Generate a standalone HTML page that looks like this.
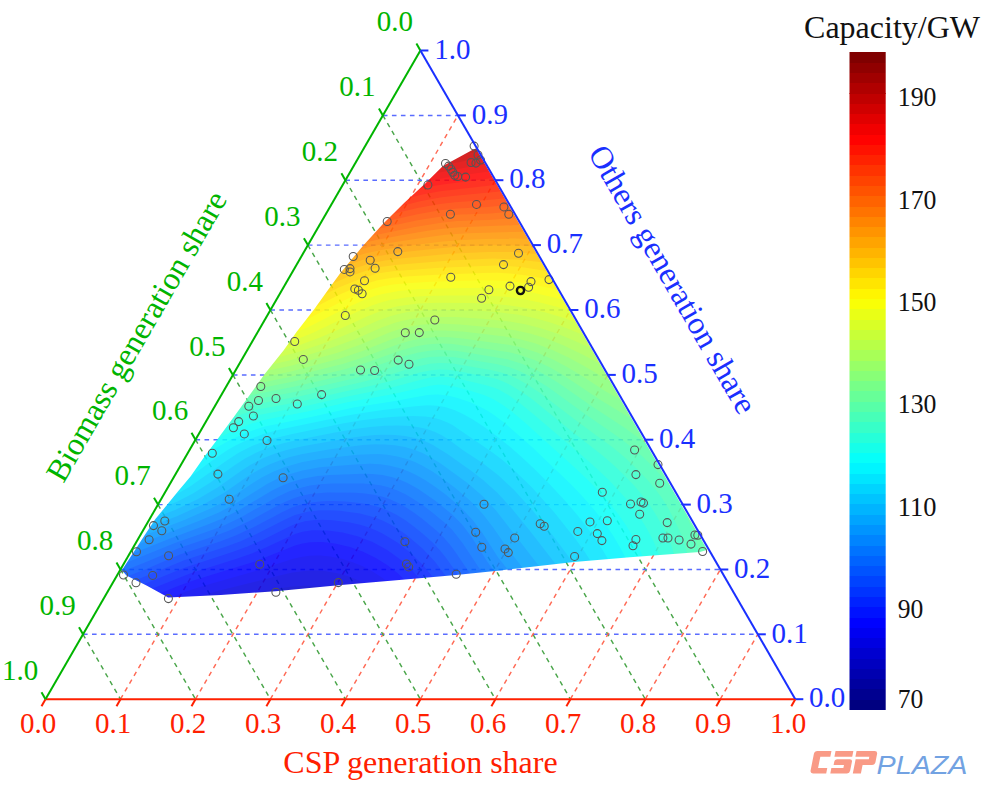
<!DOCTYPE html><html><head><meta charset="utf-8"><style>html,body{margin:0;padding:0;background:#fff;width:987px;height:794px;overflow:hidden}svg{display:block}</style></head><body><svg width="987" height="794" viewBox="0 0 987 794"><defs><clipPath id="hc"><path d="M473.2 149.4 L476.0 148.6 L707.2 549.8 L705.0 550.6 L699.8 552.1 L629.9 557.3 L573.9 562.0 L500.0 570.5 L456.1 575.0 L413.7 578.8 L338.3 585.3 L275.5 591.3 L220.8 595.0 L168.1 597.4 L164.7 595.6 L146.5 585.6 L126.4 575.6 L121.9 570.3 L145.1 534.5 L155.2 519.3 L166.5 505.5 L177.9 491.6 L190.5 476.5 L205.6 455.1 L216.9 440.0 L232.9 418.2 L264.7 374.1 L283.9 350.0 L296.5 331.9 L314.2 309.2 L330.5 286.5 L340.6 272.7 L353.2 257.6 L363.5 245.2 L382.9 224.1 L404.1 202.9 L425.2 183.5 L442.9 165.9 Z"/></clipPath></defs><g stroke-width="1.45" stroke-dasharray="4.6 4.4"><line x1="83.0" y1="634.3" x2="757.8" y2="634.3" stroke="#5a6cff"/><line x1="120.5" y1="699.2" x2="457.9" y2="115.4" stroke="#ff6a55"/><line x1="382.9" y1="115.4" x2="720.3" y2="699.2" stroke="#4aa64a"/><line x1="120.5" y1="569.5" x2="720.3" y2="569.5" stroke="#5a6cff"/><line x1="195.5" y1="699.2" x2="495.4" y2="180.2" stroke="#ff6a55"/><line x1="345.4" y1="180.2" x2="645.3" y2="699.2" stroke="#4aa64a"/><line x1="158.0" y1="504.6" x2="682.8" y2="504.6" stroke="#5a6cff"/><line x1="270.4" y1="699.2" x2="532.9" y2="245.1" stroke="#ff6a55"/><line x1="307.9" y1="245.1" x2="570.4" y2="699.2" stroke="#4aa64a"/><line x1="195.5" y1="439.7" x2="645.3" y2="439.7" stroke="#5a6cff"/><line x1="345.4" y1="699.2" x2="570.4" y2="310.0" stroke="#ff6a55"/><line x1="270.4" y1="310.0" x2="495.4" y2="699.2" stroke="#4aa64a"/><line x1="232.9" y1="374.9" x2="607.8" y2="374.9" stroke="#5a6cff"/><line x1="420.4" y1="699.2" x2="607.8" y2="374.9" stroke="#ff6a55"/><line x1="232.9" y1="374.9" x2="420.4" y2="699.2" stroke="#4aa64a"/><line x1="270.4" y1="310.0" x2="570.4" y2="310.0" stroke="#5a6cff"/><line x1="495.4" y1="699.2" x2="645.3" y2="439.7" stroke="#ff6a55"/><line x1="195.5" y1="439.7" x2="345.4" y2="699.2" stroke="#4aa64a"/><line x1="307.9" y1="245.1" x2="532.9" y2="245.1" stroke="#5a6cff"/><line x1="570.4" y1="699.2" x2="682.8" y2="504.6" stroke="#ff6a55"/><line x1="158.0" y1="504.6" x2="270.4" y2="699.2" stroke="#4aa64a"/><line x1="345.4" y1="180.2" x2="495.4" y2="180.2" stroke="#5a6cff"/><line x1="645.3" y1="699.2" x2="720.3" y2="569.5" stroke="#ff6a55"/><line x1="120.5" y1="569.5" x2="195.5" y2="699.2" stroke="#4aa64a"/><line x1="382.9" y1="115.4" x2="457.9" y2="115.4" stroke="#5a6cff"/><line x1="720.3" y1="699.2" x2="757.8" y2="634.3" stroke="#ff6a55"/><line x1="83.0" y1="634.3" x2="120.5" y2="699.2" stroke="#4aa64a"/></g><g clip-path="url(#hc)"><g fill-rule="evenodd" opacity="0.86"><path d="M471.7 145.7 440.5 162.7 422.4 180.6 401.3 200 380 221.3 360.5 242.6 337.4 270.2 311 306.8 293.3 329.5 280.7 347.6 261.5 371.7 229.7 415.8 202.4 452.7 187.3 474.1 152 516.9 116.9 570.6 123.9 578.8 144.6 589.1 167.2 601.4 221 599 275.8 595.3 338.7 589.3 456.5 579 500.4 574.5 574.3 566 700.5 556.1 713 551.9 477.9 143.9Z" fill="#000080"/><path d="M471.7 145.7 440.5 162.7 422.4 180.6 401.3 200 380 221.3 360.5 242.6 337.4 270.2 311 306.8 293.3 329.5 280.7 347.6 261.5 371.7 229.7 415.8 202.4 452.7 187.3 474.1 152 516.9 116.9 570.6 123.9 578.8 144.6 589.1 167.2 601.4 221 599 275.8 595.3 338.7 589.3 456.5 579 500.4 574.5 574.3 566 700.5 556.1 713 551.9 477.9 143.9Z" fill="#000090"/><path d="M471.7 145.7 440.5 162.7 422.4 180.6 401.3 200 380 221.3 360.5 242.6 337.4 270.2 311 306.8 293.3 329.5 280.7 347.6 261.5 371.7 229.7 415.8 202.4 452.7 187.3 474.1 152 516.9 116.9 570.6 123.9 578.8 144.6 589.1 167.2 601.4 221 599 275.8 595.3 338.7 589.3 456.5 579 500.4 574.5 574.3 566 700.5 556.1 713 551.9 477.9 143.9Z" fill="#0000a0"/><path d="M471.7 145.7 440.5 162.7 422.4 180.6 401.3 200 380 221.3 360.5 242.6 337.4 270.2 311 306.8 293.3 329.5 280.7 347.6 261.5 371.7 229.7 415.8 202.4 452.7 187.3 474.1 152 516.9 116.9 570.6 123.9 578.8 144.6 589.1 167.2 601.4 221 599 275.8 595.3 338.7 589.3 456.5 579 500.4 574.5 574.3 566 700.5 556.1 713 551.9 477.9 143.9Z" fill="#0000b0"/><path d="M471.7 145.7 440.5 162.7 422.4 180.6 401.3 200 380 221.3 360.5 242.6 337.4 270.2 311 306.8 293.3 329.5 280.7 347.6 261.5 371.7 229.7 415.8 202.4 452.7 187.3 474.1 152 516.9 116.9 570.6 123.9 578.8 144.6 589.1 167.2 601.4 221 599 275.8 595.3 338.7 589.3 456.5 579 500.4 574.5 574.3 566 700.5 556.1 713 551.9 477.9 143.9Z" fill="#0000c0"/><path d="M440.5 162.7 422.4 180.6 401.3 200 380 221.3 360.5 242.6 337.4 270.2 311 306.8 293.3 329.5 280.7 347.6 261.5 371.7 229.7 415.8 202.4 452.7 187.3 474.1 152 516.9 116.9 570.6 123.9 578.8 144.6 589.1 167.2 601.4 221 599 275.8 595.3 338.7 589.3 456.5 579 500.4 574.5 574.3 566 700.5 556.1 713 551.9 477.9 143.9 471.7 145.7Z" fill="#0000d0"/><path d="M227.5 598.3 272.5 589.3 292.5 586.5 305 585.7 315 585.9 327.5 587.2 337.5 589.4 456.5 579 500.4 574.5 574.3 566 700.5 556.1 713 551.9 477.9 143.9 471.7 145.7 440.5 162.7 422.4 180.6 401.3 200 380 221.3 360.5 242.6 337.4 270.2 311 306.8 293.3 329.5 280.7 347.6 261.5 371.7 229.7 415.8 202.4 452.7 187.3 474.1 152 516.9 116.9 570.6 123.9 578.8 144.6 589.1 167.2 601.4 221 599Z" fill="#0000e1"/><path d="M185.7 600.6 217.5 591 277.5 576 292.5 572.6 305 570.9 312.5 570.5 322.5 570.8 337.5 573.2 347.5 576.1 355 579 362.5 582.6 369.5 586.6 456.5 579 500.4 574.5 574.3 566 700.5 556.1 713 551.9 477.9 143.9 471.7 145.7 440.5 162.7 422.4 180.6 401.3 200 380 221.3 360.5 242.6 337.4 270.2 311 306.8 293.3 329.5 280.7 347.6 261.5 371.7 229.7 415.8 202.4 452.7 187.3 474.1 152 516.9 116.9 570.6 123.9 578.8 144.6 589.1 167.2 601.4Z" fill="#0000f1"/><path d="M164.2 599.9 187.5 591.1 205 585.4 255 571.3 292.5 559.1 302.5 556.7 310 555.7 320 555.5 330 556.5 342.5 559.1 352.5 562.2 362.5 566.3 372.5 571.6 382.5 578.1 390.9 584.8 456.5 579 500.4 574.5 574.3 566 700.5 556.1 713 551.9 477.9 143.9 471.7 145.7 440.5 162.7 422.4 180.6 401.3 200 380 221.3 360.5 242.6 337.4 270.2 311 306.8 293.3 329.5 280.7 347.6 261.5 371.7 229.7 415.8 202.4 452.7 187.3 474.1 152 516.9 116.9 570.6 123.9 578.8 144.6 589.1Z" fill="#0002ff"/><path d="M155.8 595 180 585.3 194.9 580 255 561.5 295 545.5 302.5 543.4 310 542.2 322.5 542 335 543.5 350 547 362.5 551.4 375 557.4 387.5 565.3 397.5 573.1 407.9 583.3 456.5 579 500.4 574.5 574.3 566 700.5 556.1 713 551.9 477.9 143.9 471.7 145.7 440.5 162.7 422.4 180.6 401.3 200 380 221.3 360.5 242.6 337.4 270.2 311 306.8 293.3 329.5 280.7 347.6 261.5 371.7 229.7 415.8 202.4 452.7 187.3 474.1 152 516.9 116.9 570.6 123.9 578.8Z" fill="#0012ff"/><path d="M147.5 590.5 190 573.5 237.5 558.5 252.5 553.2 267.5 546.8 295 534 302.5 531.8 312.5 530.3 327.5 530.5 342.5 532.5 357.5 536.2 372.5 542 387.2 550 400 559.2 411.8 570 422.5 582 500.4 574.5 574.3 566 700.5 556.1 713 551.9 477.9 143.9 471.7 145.7 440.5 162.7 422.4 180.6 401.3 200 380 221.3 360.5 242.6 337.4 270.2 311 306.8 293.3 329.5 280.7 347.6 261.5 371.7 229.7 415.8 202.4 452.7 187.3 474.1 152 516.9 116.9 570.6 123.9 578.8Z" fill="#0022ff"/><path d="M138.9 586.3 185 567.5 232.5 552 247.5 546.5 262.5 539.9 287.5 527.4 295 524.1 305 521.2 315 519.9 322.5 519.7 332.5 520.2 350 522.5 360 524.8 367.5 527.1 375 529.9 382.5 533.4 397.4 542.5 410.2 552.5 422.9 565 435.9 580.8 500.4 574.5 574.3 566 700.5 556.1 713 551.9 477.9 143.9 471.7 145.7 440.5 162.7 422.4 180.6 401.3 200 380 221.3 360.5 242.6 337.4 270.2 311 306.8 293.3 329.5 280.7 347.6 261.5 371.7 229.7 415.8 202.4 452.7 187.3 474.1 152 516.9 116.9 570.6 123.9 578.8Z" fill="#0033ff"/><path d="M130.7 582.2 184.8 560 225 547 240 541.4 257.5 533.6 285 519.5 295 515 307.5 511.7 320 510.3 330 510.3 340 510.8 360 513.5 375 517.5 382.5 520.5 390 524.2 397.5 528.7 406.6 535 422.5 548.4 435 561.8 448.5 579.7 500.4 574.5 574.3 566 700.5 556.1 713 551.9 477.9 143.9 471.7 145.7 440.5 162.7 422.4 180.6 401.3 200 380 221.3 360.5 242.6 337.4 270.2 311 306.8 293.3 329.5 280.7 347.6 261.5 371.7 229.7 415.8 202.4 452.7 187.3 474.1 152 516.9 141.8 532.3 116.9 570.6 123.9 578.8Z" fill="#0043ff"/><path d="M123.2 578 147.5 568.4 180 554.6 220 541.4 235 535.7 252.9 527.5 282.5 511.9 292.5 507.3 300 504.8 307.5 503 322.5 501.3 332.5 501.1 345 501.6 357.5 502.7 367.5 504.2 375 505.9 382.5 508.3 390 511.4 396.8 515 405 520.1 412.5 525.4 422.5 533.5 432.6 542.5 439.7 550 445 556.5 460.7 578.6 500.4 574.5 574.3 566 700.5 556.1 713 551.9 477.9 143.9 471.7 145.7 440.5 162.7 422.4 180.6 401.3 200 380 221.3 360.5 242.6 337.4 270.2 311 306.8 293.3 329.5 280.7 347.6 261.5 371.7 229.7 415.8 202.4 452.7 187.3 474.1 152 516.9 116.9 570.6Z" fill="#0053ff"/><path d="M118.7 572.8 144.9 562.5 180 547.7 215 536 230 530.3 250 520.7 280 504.3 292.5 498.7 300 496.3 310 494.1 327.5 492.4 355 492.8 365 493.5 375 494.9 382.5 496.7 390 499.3 397.5 502.7 405 506.8 413.7 512.5 422.5 519.1 437.5 531.6 443.7 537.5 450 544.8 455 551.5 472.5 577.3 574.3 566 700.5 556.1 713 551.9 477.9 143.9 471.7 145.7 440.5 162.7 422.4 180.6 401.3 200 380 221.3 360.5 242.6 337.4 270.2 311 306.8 293.3 329.5 280.7 347.6 261.5 371.7 229.7 415.8 202.4 452.7 187.3 474.1 152 516.9 116.9 570.6Z" fill="#0063ff"/><path d="M120.5 565.1 175 543 212 530 225 524.9 242.5 516.4 277.5 496.7 290 491.1 300 487.9 310 485.6 320 484.3 332.5 483.6 362.5 483.5 372.5 484.2 380 485.3 387.5 487 396.1 490 405 494.1 412.5 498.4 422.5 505 432.3 512.5 445 522.9 452.3 530 462.5 543.1 484.4 576.1 574.3 566 700.5 556.1 713 551.9 477.9 143.9 471.7 145.7 440.5 162.7 422.4 180.6 401.3 200 380 221.3 360.5 242.6 337.4 270.2 311 306.8 293.3 329.5 280.7 347.6 261.5 371.7 229.7 415.8 202.4 452.7 187.3 474.1 152 516.9Z" fill="#0073ff"/><path d="M126.4 555.9 167.5 539.4 206.5 525 222.5 518.5 239.2 510 272.5 490.2 282.5 485.4 290 482.5 302.5 478.8 317.5 476.1 330 475 362.5 473.8 372.5 474 382.5 475 392.5 477.3 400 479.8 407.5 483.1 417.5 488.4 435 500.4 452.5 514.7 462.5 525.1 471.9 537.5 487.5 561.9 496.9 574.8 574.3 566 700.5 556.1 713 551.9 477.9 143.9 471.7 145.7 440.5 162.7 422.4 180.6 401.3 200 380 221.3 360.5 242.6 337.4 270.2 311 306.8 293.3 329.5 280.7 347.6 261.5 371.7 229.7 415.8 202.4 452.7 187.3 474.1 152 516.9Z" fill="#0084ff"/><path d="M132.5 546.8 200 520.5 218.8 512.5 235 504 267.5 483.7 277.5 478.7 287.5 474.7 302.5 470.4 320 467.3 355 464.4 370 463.8 380 464.3 390 465.7 400 468.3 407.5 471 416.1 475 425 480.1 435 486.7 445 494 460.9 507.5 472.7 520 482.1 532.5 498.1 557.5 510.7 573.3 574.3 566 700.5 556.1 713 551.9 477.9 143.9 471.7 145.7 440.5 162.7 422.4 180.6 401.3 200 380 221.3 360.5 242.6 337.4 270.2 311 306.8 293.3 329.5 280.7 347.6 261.5 371.7 229.7 415.8 202.4 452.7 187.3 474.1 152 516.9Z" fill="#0094ff"/><path d="M138.3 537.7 184.3 520 212.8 507.5 230 498.3 252.5 483.2 262.5 477.1 272.5 472 285 467 302.5 462.1 322.5 458.6 357.5 454.7 377.5 454 387.5 454.7 397.5 456.4 407.5 459.2 415 462.1 422.5 465.7 432.5 471.6 442.5 478.4 455 487.7 470 500.6 476.9 507.5 483.6 515 493.2 527.5 510 551.8 525.8 571.6 574.3 566 700.5 556.1 713 551.9 477.9 143.9 471.7 145.7 440.5 162.7 422.4 180.6 401.3 200 380 221.3 360.5 242.6 337.4 270.2 311 306.8 293.3 329.5 280.7 347.6 261.5 371.7 229.7 415.8 202.4 452.7 187.3 474.1 152 516.9Z" fill="#00a4ff"/><path d="M144.2 528.6 177.5 515.9 205 503.4 224.6 492.5 247.5 476.6 257.5 470.4 268.1 465 280 460.2 290 457.1 302.5 454.1 330 449.2 362.5 445.1 375 444.3 385 444.4 395 445.2 405 447 415 449.9 422.5 453 430 456.9 440 463.1 467.5 483.1 482.5 496.1 495.6 510 541.9 569.7 574.3 566 700.5 556.1 713 551.9 477.9 143.9 471.7 145.7 440.5 162.7 422.4 180.6 401.3 200 380 221.3 360.5 242.6 337.4 270.2 311 306.8 293.3 329.5 280.7 347.6 261.5 371.7 229.7 415.8 202.4 452.7 187.3 474.1 152 516.9Z" fill="#00b4ff"/><path d="M150.3 519.5 175 509.9 197.5 499.3 217.6 487.5 242.4 470 250.2 465 262.5 458.6 275 453.6 287.5 449.8 302.5 446.3 347.5 438.2 362.5 436.2 375 435.1 385 434.8 395 435.1 405 436.1 415 438 425 441.2 432.5 444.7 447.5 454.1 472.5 471.8 483.1 480 497.1 492.5 511 507.5 531.2 532.5 558.5 567.8 574.3 566 630.2 561.3 700.5 556.1 713 551.9 477.9 143.9 471.7 145.7 440.5 162.7 422.4 180.6 401.3 200 380 221.3 360.5 242.6 337.4 270.2 311 306.8 293.3 329.5 280.7 347.6 261.5 371.7 229.7 415.8 202.4 452.7 187.3 474.1 152 516.9Z" fill="#00c4ff"/><path d="M158 509.6 177.5 501.4 192.5 493.8 210.4 482.5 235 464.9 245 458.4 256.5 452.5 270 447.1 282.5 443.4 297.1 440 335 432.5 355 429 370 427 385 425.8 397.5 425.5 410 426.1 420 427.4 427.5 429.2 435 431.9 441.3 435 450 440.5 462.7 450 482.5 463.1 498 475 514.1 490 532.2 510 554.4 537.5 575.5 565.9 700.5 556.1 713 551.9 477.9 143.9 471.7 145.7 440.5 162.7 422.4 180.6 401.3 200 380 221.3 360.5 242.6 337.4 270.2 311 306.8 293.3 329.5 280.7 347.6 261.5 371.7 229.7 415.8 202.4 452.7 187.3 474.1Z" fill="#00d4ff"/><path d="M167.2 498.4 180 492.3 190 486.6 227.5 459.9 239 452.5 252.5 445.7 267.5 440.1 290 434.4 342.5 423.5 360 420.5 380 417.9 395 416.7 412.5 416 425 416.5 432.5 417.5 440 419.5 447.5 422.5 452.5 425.1 492.5 452.4 502.5 460 511.3 467.5 532 487.5 554.4 512.5 576.2 540 585 552.3 592.9 564.4 700.5 556.1 713 551.9 477.9 143.9 471.7 145.7 440.5 162.7 422.4 180.6 401.3 200 380 221.3 360.5 242.6 337.4 270.2 311 306.8 293.3 329.5 280.7 347.6 261.5 371.7 229.7 415.8 202.4 452.7 187.3 474.1Z" fill="#00e5ff"/><path d="M178.5 484.6 189.5 477.5 210 461.9 227.5 450 236.5 445 247 440 265 433.4 280 429.6 345 415.9 357.5 413.7 382.5 410.1 415 406.2 427.5 405.3 437.5 405.8 445 407.1 454.3 410 462.5 413.7 472.5 419.2 485 427.5 497.5 436.7 510 446.8 522.2 457.5 535.5 470 550.4 485 564.4 500 575.3 512.5 585.3 525 594.5 537.5 602.7 550 610.2 563 700.5 556.1 713 551.9 477.9 143.9 471.7 145.7 440.5 162.7 422.4 180.6 401.3 200 380 221.3 360.5 242.6 337.4 270.2 311 306.8 293.3 329.5 280.7 347.6 261.5 371.7 229.7 415.8 202.4 452.7 187.3 474.1Z" fill="#00f5ff"/><path d="M195.8 462.1 205 455 212.7 450 230 440.1 247.5 432.2 265 426.4 312.5 416.7 353.8 407.5 392.5 401.4 427.5 395.1 437.5 394.5 447.5 395.4 457.5 397.9 470 402.3 480 406.7 487.5 410.8 495 415.7 505 423.3 532.5 447.5 571.6 485 583.4 497.5 594.3 510 604.1 522.5 612.7 535 620.1 547.5 627.4 561.5 700.5 556.1 713 551.9 477.9 143.9 471.7 145.7 440.5 162.7 422.4 180.6 401.3 200 380 221.3 360.5 242.6 337.4 270.2 311 306.8 293.3 329.5 280.7 347.6 261.5 371.7Z" fill="#06fff9"/><path d="M209.4 443.4 224.7 435 237.5 429.1 252.5 423.3 265 419.8 307.5 411.6 347.5 402.3 392.5 394.2 430 385.7 437.5 384.8 442.5 384.8 455 386.7 467.8 390 483.7 395 492.5 398.8 502.5 404.7 512.9 412.5 524.8 422.5 574.6 467.5 587.9 480 597.7 490 608.9 502.5 617.5 513.2 625.8 525 632.5 535.9 638.7 547.5 644.5 560.2 700.5 556.1 713 551.9 477.9 143.9 471.7 145.7 440.5 162.7 422.4 180.6 401.3 200 380 221.3 360.5 242.6 337.4 270.2 311 306.8 293.3 329.5 280.7 347.6 261.5 371.7Z" fill="#16ffe9"/><path d="M218.8 430.7 240 421.3 250.6 417.5 260 414.7 302.5 406.8 345 397 385 389.1 397.5 386.1 420 379.9 430 377.6 440 376.6 450 377.3 463.9 380 485 384.9 493.7 387.5 500 390.2 508.3 395 520 403.3 534.4 415 590 462.5 608.9 480 625 497.5 632.9 507.5 640 517.6 646.2 527.5 652.5 539.2 657.3 550 660.5 559 700.5 556.1 713 551.9 477.9 143.9 471.7 145.7 440.5 162.7 422.4 180.6 401.3 200 380 221.3 360.5 242.6 337.4 270.2 311 306.8 293.3 329.5 280.7 347.6 261.5 371.7Z" fill="#26ffd9"/><path d="M226.3 420.4 242.5 414.1 257.5 409.6 302.5 401.2 342.5 391.9 372.5 385.6 394.9 380 420 372.6 430 370.5 440 369.6 450 370.1 462.5 372 495 378.6 502.5 381.2 510.3 385 522.5 392.4 532.5 399.6 572.5 432 601.9 455 613.5 465 624 475 633.6 485 642.1 495 649.6 505 655 513.2 661.8 525 668.1 537.5 672.1 547.5 675 558 700.5 556.1 713 551.9 477.9 143.9 471.7 145.7 440.5 162.7 422.4 180.6 401.3 200 380 221.3 360.5 242.6 337.4 270.2 311 306.8 293.3 329.5 280.7 347.6 261.5 371.7Z" fill="#37ffc8"/><path d="M232.7 411.7 247.5 406.7 257.5 404.1 300 396.2 362.5 382 387.5 375.4 415 366.9 430 363.7 440 362.9 452.5 363.6 490.3 370 501.4 372.5 510 375.6 519.3 380 528.1 385 539.4 392.5 580 423.5 612.8 447.5 624.8 457.5 637.5 469.4 647.5 479.9 655 488.7 661.5 497.5 667.8 507.5 675 521.2 681.4 535 684.9 545 688 557 700.5 556.1 713 551.9 477.9 143.9 471.7 145.7 440.5 162.7 422.4 180.6 401.3 200 380 221.3 360.5 242.6 337.4 270.2 311 306.8 293.3 329.5 280.7 347.6 261.5 371.7Z" fill="#47ffb8"/><path d="M238.2 404 255 399.4 297.5 391.4 352.5 378.8 377.5 371.9 412.5 360.7 422.5 358.3 430 357.1 442.5 356.5 455 357.3 497.5 364.3 510 367.5 517.5 370.2 527.9 375 537.5 380.4 548.6 387.5 587.5 415.8 620 438.2 632 447.5 642.5 456.6 653.7 467.5 662.7 477.5 670.6 487.5 677.5 498.1 684.9 512.5 692.5 530 696.6 542.5 699.8 556.1 706.2 554.4 713 551.9 477.9 143.9 471.7 145.7 440.5 162.7 422.4 180.6 401.3 200 380 221.3 360.5 242.6 337.4 270.2 311 306.8 293.3 329.5 280.7 347.6 261.5 371.7Z" fill="#57ffa8"/><path d="M243.2 397 255 394.2 295 386.6 347.5 374.4 371.2 367.5 405 356.1 417.5 352.7 427.5 350.9 437.5 350.1 447.5 350.2 457.5 351.1 507.5 359.3 522.5 363.9 536.4 370 545.6 375 557.8 382.5 592.5 406.8 625 427.9 641.4 440 655.6 452.3 477.9 143.9 471.7 145.7 440.5 162.7 422.4 180.6 401.3 200 380 221.3 360.5 242.6 337.4 270.2 311 306.8 293.3 329.5 280.7 347.6 261.5 371.7ZM708.9 544.7 710.6 552.8 713 551.9Z" fill="#67ff98"/><path d="M247.9 390.6 292.5 381.8 345 369.3 367.1 362.5 400 350.7 415 346.5 425 344.7 432.5 343.9 442.5 343.6 452.5 344 507.5 352 520.1 355 535 360.3 550 367.5 563 375 600 399.7 625.1 415 639.7 424.6 477.9 143.9 471.7 145.7 440.5 162.7 422.4 180.6 401.3 200 380 221.3 360.5 242.6 337.4 270.2 311 306.8 293.3 329.5 280.7 347.6 261.5 371.7Z" fill="#77ff88"/><path d="M252.5 384.4 290 377.1 342.5 364 362.9 357.5 397.5 344.5 410 340.8 420 338.7 430 337.5 440 337 450 337.3 462.5 338.5 510 345 522.5 347.7 537.1 352.5 552.5 359.2 567.5 367.2 580.6 375 605 390.9 627.8 404.1 477.9 143.9 471.7 145.7 440.5 162.7 422.4 180.6 401.3 200 380 221.3 360.5 242.6 337.4 270.2 311 306.8 293.3 329.5 280.7 347.6 261.5 371.7Z" fill="#88ff77"/><path d="M256.7 378.3 290 371.7 340 358.4 362.5 350.9 392.5 338.9 407.5 334.3 425 331.2 435 330.5 445 330.4 462.5 331.6 505 336.6 520 339.2 535 343.3 552.5 349.9 568.5 357.5 585 366.6 617.1 385.5 477.9 143.9 471.7 145.7 440.5 162.7 422.4 180.6 401.3 200 380 221.3 360.5 242.6 337.4 270.2 311 306.8 293.3 329.5 280.7 347.6 261.5 371.7Z" fill="#98ff67"/><path d="M261.2 372.1 290 366.1 337.5 352.7 360 344.8 390 332.2 402.5 328.3 420 324.8 437.5 323.6 460 324.4 497.5 327.9 515 330.3 530 333.5 545 338.1 562.6 345 582.5 354.5 606.8 367.5 477.9 143.9 471.7 145.7 440.5 162.7 422.4 180.6 401.3 200 380 221.3 360.5 242.6 337.4 270.2 311 306.8 293.3 329.5 280.7 347.6Z" fill="#a8ff57"/><path d="M266.3 365.7 291.5 360 332.4 347.5 355 339.2 382.5 327.2 395 322.7 402.5 320.7 412.5 318.7 422.5 317.5 432.5 316.9 455 317.1 482.5 318.7 507.5 321.2 525 324.2 540 327.9 557.5 333.8 575 340.9 597.6 351.5 477.9 143.9 471.7 145.7 440.5 162.7 422.4 180.6 401.3 200 380 221.3 360.5 242.6 337.4 270.2 311 306.8 293.3 329.5 280.7 347.6Z" fill="#b8ff47"/><path d="M271.7 358.9 296.4 352.5 326.3 342.5 351.3 332.5 377.5 320.8 390 316.2 397.5 314.2 407.5 312.1 425 310.2 442.5 309.7 475 310.6 497.5 312.1 517.5 314.6 535 318.2 550.5 322.5 567.5 328.4 589.4 337.4 477.9 143.9 471.7 145.7 440.5 162.7 422.4 180.6 401.3 200 380 221.3 360.5 242.6 337.4 270.2 311 306.8 293.3 329.5 280.7 347.6Z" fill="#c8ff37"/><path d="M277.5 351.6 299.7 345 319.9 337.5 337.6 330 367.5 316.2 380 311.2 387.5 308.8 397.5 306.3 417.5 303.6 437.5 302.7 470 302.9 492.5 303.7 510 305.4 527.5 308.2 545 312.3 562.5 317.6 582.1 324.7 477.9 143.9 471.7 145.7 440.5 162.7 422.4 180.6 401.3 200 380 221.3 360.5 242.6 337.4 270.2 311 306.8 293.3 329.5Z" fill="#d9ff26"/><path d="M283.5 343.6 300 338.1 312.5 333 355.6 312.5 372.5 305.3 380.7 302.5 390 300 407.5 297.2 425 295.9 447.5 295.5 485 295.6 505 296.7 522.5 299 540 302.5 557.5 307.1 575.3 312.9 477.9 143.9 471.7 145.7 440.5 162.7 422.4 180.6 401.3 200 380 221.3 360.5 242.6 337.4 270.2 311 306.8 293.3 329.5Z" fill="#e9ff16"/><path d="M289.5 334.9 307.4 327.5 345 308.5 364.1 300 375 296 382.5 293.9 400 290.8 417.5 289.3 437.5 288.5 482.5 287.8 500 288.3 515 289.8 532.5 292.6 550 296.4 568.8 301.6 477.9 143.9 471.7 145.7 440.5 162.7 422.4 180.6 401.3 200 380 221.3 360.5 242.6 337.4 270.2 311 306.8Z" fill="#f9ff06"/><path d="M297.2 324.5 339.5 302.5 352.5 296.5 365 291.6 375 288.2 382.5 286.2 392.5 284.5 410 282.9 430 281.8 480 280.3 497.5 280.4 512.5 281.5 527.5 283.6 545 286.9 562.7 291.1 477.9 143.9 471.7 145.7 440.5 162.7 422.4 180.6 401.3 200 380 221.3 360.5 242.6 337.4 270.2 311 306.8Z" fill="#fff500"/><path d="M307.6 311.2 337.5 295.4 355.9 287.5 367.5 283.2 377.5 280.2 392.5 277.7 410 276.2 432.5 274.9 482.5 272.9 497.5 272.7 510 273.6 525 275.3 540 277.7 557 281.1 477.9 143.9 471.7 145.7 440.5 162.7 422.4 180.6 401.3 200 380 221.3 360.5 242.6 337.4 270.2Z" fill="#ffe500"/><path d="M317.5 297.9 338.7 287.5 360 279 377.5 273.6 392.5 271.3 440 267.8 495 265.4 507.5 265.9 522.5 267.3 551.6 271.7 477.9 143.9 471.7 145.7 440.5 162.7 422.4 180.6 401.3 200 380 221.3 360.5 242.6 337.4 270.2Z" fill="#ffd500"/><path d="M325.4 286.7 346.4 277.5 367.5 270.2 380 267.1 397.5 264.7 450 260.5 492.5 258.6 517.5 259.5 546.4 262.8 477.9 143.9 471.7 145.7 440.5 162.7 422.4 180.6 401.3 200 380 221.3 360.5 242.6 337.4 270.2Z" fill="#ffc400"/><path d="M332.7 276.7 352.5 269 370 263.6 385 260.5 405 257.9 450 253.8 487.5 252 512.5 252.1 541.6 254.5 477.9 143.9 471.7 145.7 440.5 162.7 422.4 180.6 401.3 200 380 221.3 360.5 242.6 337.4 270.2Z" fill="#ffb400"/><path d="M339.9 267.5 362.2 260 380 255.7 400 252.6 437.5 248.4 460 246.5 492.5 245.3 515 245.4 537.1 246.5 477.9 143.9 471.7 145.7 440.5 162.7 422.4 180.6 401.3 200 380 221.3 360.5 242.6Z" fill="#ffa400"/><path d="M346.7 259.1 365 253.6 382.5 249.7 405 246.2 442.5 241.4 462.5 239.9 492.5 238.8 515 238.5 532.7 239 477.9 143.9 471.7 145.7 440.5 162.7 422.4 180.6 401.3 200 380 221.3 360.5 242.6Z" fill="#ff9400"/><path d="M353.2 251.3 370 246.8 387.5 243.3 415 238.9 445 234.7 467.5 233.2 510 231.9 528.5 231.7 477.9 143.9 471.7 145.7 440.5 162.7 422.4 180.6 401.3 200 380 221.3 360.5 242.6Z" fill="#ff8400"/><path d="M359.3 244 375 240.3 400 235.5 427.5 230.8 445 228.4 460 227.2 524.5 224.8 477.9 143.9 471.7 145.7 440.5 162.7 422.4 180.6 401.3 200 380 221.3Z" fill="#ff7300"/><path d="M365.7 237 415 226.9 442.5 222.4 457.5 221 487.5 220 520.6 217.9 477.9 143.9 471.7 145.7 440.5 162.7 422.4 180.6 401.3 200 380 221.3Z" fill="#ff6300"/><path d="M372.2 230 417.5 220.3 442.5 216.2 460 214.6 490 213.4 516.7 211.2 477.9 143.9 471.7 145.7 440.5 162.7 422.4 180.6 401.3 200 380 221.3Z" fill="#ff5300"/><path d="M378.3 223.1 417.5 214.2 440 210.2 457.5 208.4 487.5 207 512.9 204.6 477.9 143.9 471.7 145.7 440.5 162.7 422.4 180.6 401.3 200Z" fill="#ff4300"/><path d="M385.5 215.8 417.5 208 440 203.9 455 202.2 487.5 200.1 509 197.9 477.9 143.9 471.7 145.7 440.5 162.7 422.4 180.6 401.3 200Z" fill="#ff3300"/><path d="M393.5 207.9 420 201.3 440 197.6 455 195.8 505.1 191.1 477.9 143.9 471.7 145.7 440.5 162.7 422.4 180.6 401.3 200Z" fill="#ff2200"/><path d="M401.8 199.6 422.5 194.5 440 191.3 501.2 184.3 477.9 143.9 471.7 145.7 440.5 162.7 422.4 180.6Z" fill="#ff1200"/><path d="M411.1 191 427.5 187.1 442.5 184.5 497.3 177.5 477.9 143.9 471.7 145.7 440.5 162.7 422.4 180.6Z" fill="#ff0200"/><path d="M420.4 182.5 445 177.7 493.4 170.7 477.9 143.9 471.7 145.7 440.5 162.7Z" fill="#f10000"/><path d="M428.7 174.4 467.5 167.3 489.5 164 477.9 143.9 471.7 145.7 440.5 162.7Z" fill="#e10000"/><path d="M436.7 166.5 470 159.9 485.7 157.4 477.9 143.9 471.7 145.7 440.5 162.7Z" fill="#d00000"/><path d="M450.6 157.1 470 153.1 482 151.1 477.9 143.9 471.7 145.7Z" fill="#c00000"/><path d="M470.4 146.3 475 145.5 478.5 144.9 477.9 143.9Z" fill="#b00000"/></g></g><g fill="none" stroke="#555" stroke-width="1.05"><circle cx="474.1" cy="146.1" r="4"/><circle cx="445.5" cy="163.5" r="4"/><circle cx="448.6" cy="166.1" r="4"/><circle cx="451.0" cy="169.2" r="4"/><circle cx="452.8" cy="172.2" r="4"/><circle cx="454.7" cy="175.3" r="4"/><circle cx="457.7" cy="176.5" r="4"/><circle cx="465.6" cy="177.1" r="4"/><circle cx="471.1" cy="162.5" r="4"/><circle cx="475.9" cy="163.1" r="4"/><circle cx="478.0" cy="155.0" r="4"/><circle cx="480.5" cy="160.0" r="4"/><circle cx="427.9" cy="185.0" r="4"/><circle cx="476.5" cy="204.4" r="4"/><circle cx="450.4" cy="214.2" r="4"/><circle cx="503.9" cy="206.9" r="4"/><circle cx="508.8" cy="214.2" r="4"/><circle cx="387.2" cy="221.5" r="4"/><circle cx="397.8" cy="251.6" r="4"/><circle cx="353.2" cy="256.5" r="4"/><circle cx="370.2" cy="260.2" r="4"/><circle cx="375.1" cy="268.3" r="4"/><circle cx="344.3" cy="269.4" r="4"/><circle cx="350.0" cy="268.6" r="4"/><circle cx="350.0" cy="271.9" r="4"/><circle cx="364.5" cy="280.8" r="4"/><circle cx="354.8" cy="288.9" r="4"/><circle cx="358.4" cy="290.2" r="4"/><circle cx="362.1" cy="293.7" r="4"/><circle cx="345.3" cy="315.5" r="4"/><circle cx="294.7" cy="341.5" r="4"/><circle cx="303.3" cy="359.4" r="4"/><circle cx="405.3" cy="332.8" r="4"/><circle cx="419.3" cy="332.6" r="4"/><circle cx="434.8" cy="320.0" r="4"/><circle cx="398.2" cy="360.1" r="4"/><circle cx="409.0" cy="364.2" r="4"/><circle cx="360.5" cy="370.0" r="4"/><circle cx="374.6" cy="370.5" r="4"/><circle cx="518.5" cy="253.2" r="4"/><circle cx="503.5" cy="264.6" r="4"/><circle cx="450.8" cy="277.2" r="4"/><circle cx="510.0" cy="286.1" r="4"/><circle cx="528.6" cy="287.3" r="4"/><circle cx="531.0" cy="281.6" r="4"/><circle cx="549.0" cy="279.6" r="4"/><circle cx="488.9" cy="289.7" r="4"/><circle cx="481.6" cy="298.3" r="4"/><circle cx="321.6" cy="394.6" r="4"/><circle cx="260.8" cy="386.5" r="4"/><circle cx="258.5" cy="400.5" r="4"/><circle cx="276.0" cy="398.5" r="4"/><circle cx="297.3" cy="404.0" r="4"/><circle cx="248.8" cy="406.2" r="4"/><circle cx="253.4" cy="416.0" r="4"/><circle cx="238.7" cy="421.6" r="4"/><circle cx="233.4" cy="427.8" r="4"/><circle cx="244.3" cy="433.9" r="4"/><circle cx="267.0" cy="440.5" r="4"/><circle cx="212.3" cy="453.3" r="4"/><circle cx="217.9" cy="474.1" r="4"/><circle cx="283.1" cy="477.8" r="4"/><circle cx="229.2" cy="499.2" r="4"/><circle cx="164.8" cy="521.0" r="4"/><circle cx="153.5" cy="525.6" r="4"/><circle cx="161.8" cy="530.8" r="4"/><circle cx="149.1" cy="539.7" r="4"/><circle cx="136.5" cy="551.7" r="4"/><circle cx="168.6" cy="555.7" r="4"/><circle cx="123.5" cy="575.0" r="4"/><circle cx="152.7" cy="575.4" r="4"/><circle cx="136.0" cy="582.7" r="4"/><circle cx="168.4" cy="598.6" r="4"/><circle cx="259.8" cy="564.2" r="4"/><circle cx="275.9" cy="592.2" r="4"/><circle cx="338.3" cy="582.6" r="4"/><circle cx="404.9" cy="541.7" r="4"/><circle cx="406.4" cy="563.9" r="4"/><circle cx="408.7" cy="566.9" r="4"/><circle cx="456.2" cy="574.3" r="4"/><circle cx="484.0" cy="504.2" r="4"/><circle cx="540.2" cy="523.8" r="4"/><circle cx="544.2" cy="526.2" r="4"/><circle cx="475.7" cy="532.2" r="4"/><circle cx="514.7" cy="537.9" r="4"/><circle cx="481.8" cy="547.3" r="4"/><circle cx="505.0" cy="548.9" r="4"/><circle cx="508.3" cy="552.6" r="4"/><circle cx="634.6" cy="450.0" r="4"/><circle cx="658.0" cy="464.6" r="4"/><circle cx="635.9" cy="474.6" r="4"/><circle cx="659.7" cy="483.2" r="4"/><circle cx="602.3" cy="492.2" r="4"/><circle cx="630.5" cy="504.0" r="4"/><circle cx="641.0" cy="502.0" r="4"/><circle cx="643.5" cy="503.1" r="4"/><circle cx="639.7" cy="514.2" r="4"/><circle cx="590.0" cy="521.9" r="4"/><circle cx="607.3" cy="520.8" r="4"/><circle cx="667.2" cy="522.6" r="4"/><circle cx="577.8" cy="531.4" r="4"/><circle cx="597.3" cy="533.6" r="4"/><circle cx="601.9" cy="540.6" r="4"/><circle cx="635.9" cy="539.5" r="4"/><circle cx="633.0" cy="545.7" r="4"/><circle cx="662.9" cy="538.0" r="4"/><circle cx="668.0" cy="538.0" r="4"/><circle cx="679.1" cy="540.0" r="4"/><circle cx="694.9" cy="535.0" r="4"/><circle cx="697.8" cy="535.3" r="4"/><circle cx="691.0" cy="544.1" r="4"/><circle cx="702.6" cy="551.5" r="4"/><circle cx="574.6" cy="556.4" r="4"/></g><circle cx="520.5" cy="290.5" r="3.6" fill="none" stroke="#111" stroke-width="2.4"/><g stroke-width="2" fill="none" stroke-linecap="butt"><path d="M45.5 699.2 L795.3 699.2" stroke="#ff2000"/><path d="M45.5 699.2 L420.4 50.5" stroke="#00b400"/><path d="M795.3 699.2 L420.4 50.5" stroke="#1a30ff"/><path d="M45.5 699.2 l-4.00 6.93" stroke="#ff2000"/><path d="M420.4 50.5 l-4.00 -6.93" stroke="#00b400"/><path d="M795.3 699.2 l8.00 0.00" stroke="#1a30ff"/><path d="M120.5 699.2 l-4.00 6.93" stroke="#ff2000"/><path d="M382.9 115.4 l-4.00 -6.93" stroke="#00b400"/><path d="M757.8 634.3 l8.00 0.00" stroke="#1a30ff"/><path d="M195.5 699.2 l-4.00 6.93" stroke="#ff2000"/><path d="M345.4 180.2 l-4.00 -6.93" stroke="#00b400"/><path d="M720.3 569.5 l8.00 0.00" stroke="#1a30ff"/><path d="M270.4 699.2 l-4.00 6.93" stroke="#ff2000"/><path d="M307.9 245.1 l-4.00 -6.93" stroke="#00b400"/><path d="M682.8 504.6 l8.00 0.00" stroke="#1a30ff"/><path d="M345.4 699.2 l-4.00 6.93" stroke="#ff2000"/><path d="M270.4 310.0 l-4.00 -6.93" stroke="#00b400"/><path d="M645.3 439.7 l8.00 0.00" stroke="#1a30ff"/><path d="M420.4 699.2 l-4.00 6.93" stroke="#ff2000"/><path d="M232.9 374.9 l-4.00 -6.93" stroke="#00b400"/><path d="M607.8 374.9 l8.00 0.00" stroke="#1a30ff"/><path d="M495.4 699.2 l-4.00 6.93" stroke="#ff2000"/><path d="M195.5 439.7 l-4.00 -6.93" stroke="#00b400"/><path d="M570.4 310.0 l8.00 0.00" stroke="#1a30ff"/><path d="M570.4 699.2 l-4.00 6.93" stroke="#ff2000"/><path d="M158.0 504.6 l-4.00 -6.93" stroke="#00b400"/><path d="M532.9 245.1 l8.00 0.00" stroke="#1a30ff"/><path d="M645.3 699.2 l-4.00 6.93" stroke="#ff2000"/><path d="M120.5 569.5 l-4.00 -6.93" stroke="#00b400"/><path d="M495.4 180.2 l8.00 0.00" stroke="#1a30ff"/><path d="M720.3 699.2 l-4.00 6.93" stroke="#ff2000"/><path d="M83.0 634.3 l-4.00 -6.93" stroke="#00b400"/><path d="M457.9 115.4 l8.00 0.00" stroke="#1a30ff"/><path d="M795.3 699.2 l-4.00 6.93" stroke="#ff2000"/><path d="M45.5 699.2 l-4.00 -6.93" stroke="#00b400"/><path d="M420.4 50.5 l8.00 0.00" stroke="#1a30ff"/></g><g font-family="Liberation Serif" font-size="29"><text x="38.2" y="733.2" text-anchor="middle" fill="#ff2000">0.0</text><text x="394.9" y="31.2" text-anchor="middle" fill="#00b400">0.0</text><text x="809.1" y="707.4" text-anchor="start" fill="#1a30ff">0.0</text><text x="113.2" y="733.2" text-anchor="middle" fill="#ff2000">0.1</text><text x="357.4" y="96.1" text-anchor="middle" fill="#00b400">0.1</text><text x="771.6" y="642.5" text-anchor="start" fill="#1a30ff">0.1</text><text x="188.2" y="733.2" text-anchor="middle" fill="#ff2000">0.2</text><text x="319.9" y="160.9" text-anchor="middle" fill="#00b400">0.2</text><text x="734.1" y="577.7" text-anchor="start" fill="#1a30ff">0.2</text><text x="263.1" y="733.2" text-anchor="middle" fill="#ff2000">0.3</text><text x="282.4" y="225.8" text-anchor="middle" fill="#00b400">0.3</text><text x="696.6" y="512.8" text-anchor="start" fill="#1a30ff">0.3</text><text x="338.1" y="733.2" text-anchor="middle" fill="#ff2000">0.4</text><text x="244.9" y="290.7" text-anchor="middle" fill="#00b400">0.4</text><text x="659.1" y="447.9" text-anchor="start" fill="#1a30ff">0.4</text><text x="413.1" y="733.2" text-anchor="middle" fill="#ff2000">0.5</text><text x="207.4" y="355.6" text-anchor="middle" fill="#00b400">0.5</text><text x="621.6" y="383.1" text-anchor="start" fill="#1a30ff">0.5</text><text x="488.1" y="733.2" text-anchor="middle" fill="#ff2000">0.6</text><text x="170.0" y="420.4" text-anchor="middle" fill="#00b400">0.6</text><text x="584.2" y="318.2" text-anchor="start" fill="#1a30ff">0.6</text><text x="563.1" y="733.2" text-anchor="middle" fill="#ff2000">0.7</text><text x="132.5" y="485.3" text-anchor="middle" fill="#00b400">0.7</text><text x="546.7" y="253.3" text-anchor="start" fill="#1a30ff">0.7</text><text x="638.0" y="733.2" text-anchor="middle" fill="#ff2000">0.8</text><text x="95.0" y="550.2" text-anchor="middle" fill="#00b400">0.8</text><text x="509.2" y="188.4" text-anchor="start" fill="#1a30ff">0.8</text><text x="713.0" y="733.2" text-anchor="middle" fill="#ff2000">0.9</text><text x="57.5" y="615.0" text-anchor="middle" fill="#00b400">0.9</text><text x="471.7" y="123.6" text-anchor="start" fill="#1a30ff">0.9</text><text x="788.0" y="733.2" text-anchor="middle" fill="#ff2000">1.0</text><text x="20.0" y="679.9" text-anchor="middle" fill="#00b400">1.0</text><text x="434.2" y="58.7" text-anchor="start" fill="#1a30ff">1.0</text></g><text x="420.5" y="772.5" text-anchor="middle" font-family="Liberation Serif" font-size="32" fill="#ff2000">CSP generation share</text><text transform="translate(145.7,341.6) rotate(-60)" text-anchor="middle" font-family="Liberation Serif" font-size="32" fill="#00b400">Biomass generation share</text><text transform="translate(663.4,284.6) rotate(60)" text-anchor="middle" font-family="Liberation Serif" font-size="32" fill="#1a30ff">Others generation share</text><g><rect x="849.5" y="700" width="36.2" height="10" fill="#000080"/><rect x="849.5" y="689" width="36.2" height="11" fill="#000090"/><rect x="849.5" y="679" width="36.2" height="10" fill="#0000a0"/><rect x="849.5" y="669" width="36.2" height="10" fill="#0000b0"/><rect x="849.5" y="659" width="36.2" height="10" fill="#0000c0"/><rect x="849.5" y="648" width="36.2" height="11" fill="#0000d0"/><rect x="849.5" y="638" width="36.2" height="10" fill="#0000e1"/><rect x="849.5" y="628" width="36.2" height="10" fill="#0000f1"/><rect x="849.5" y="618" width="36.2" height="10" fill="#0002ff"/><rect x="849.5" y="607" width="36.2" height="11" fill="#0012ff"/><rect x="849.5" y="597" width="36.2" height="10" fill="#0022ff"/><rect x="849.5" y="587" width="36.2" height="10" fill="#0033ff"/><rect x="849.5" y="576" width="36.2" height="11" fill="#0043ff"/><rect x="849.5" y="566" width="36.2" height="10" fill="#0053ff"/><rect x="849.5" y="556" width="36.2" height="10" fill="#0063ff"/><rect x="849.5" y="546" width="36.2" height="10" fill="#0073ff"/><rect x="849.5" y="535" width="36.2" height="11" fill="#0084ff"/><rect x="849.5" y="525" width="36.2" height="10" fill="#0094ff"/><rect x="849.5" y="515" width="36.2" height="10" fill="#00a4ff"/><rect x="849.5" y="504" width="36.2" height="11" fill="#00b4ff"/><rect x="849.5" y="494" width="36.2" height="10" fill="#00c4ff"/><rect x="849.5" y="484" width="36.2" height="10" fill="#00d4ff"/><rect x="849.5" y="474" width="36.2" height="10" fill="#00e5ff"/><rect x="849.5" y="463" width="36.2" height="11" fill="#00f5ff"/><rect x="849.5" y="453" width="36.2" height="10" fill="#06fff9"/><rect x="849.5" y="443" width="36.2" height="10" fill="#16ffe9"/><rect x="849.5" y="433" width="36.2" height="10" fill="#26ffd9"/><rect x="849.5" y="422" width="36.2" height="11" fill="#37ffc8"/><rect x="849.5" y="412" width="36.2" height="10" fill="#47ffb8"/><rect x="849.5" y="402" width="36.2" height="10" fill="#57ffa8"/><rect x="849.5" y="391" width="36.2" height="11" fill="#67ff98"/><rect x="849.5" y="381" width="36.2" height="10" fill="#77ff88"/><rect x="849.5" y="371" width="36.2" height="10" fill="#88ff77"/><rect x="849.5" y="361" width="36.2" height="10" fill="#98ff67"/><rect x="849.5" y="350" width="36.2" height="11" fill="#a8ff57"/><rect x="849.5" y="340" width="36.2" height="10" fill="#b8ff47"/><rect x="849.5" y="330" width="36.2" height="10" fill="#c8ff37"/><rect x="849.5" y="320" width="36.2" height="10" fill="#d9ff26"/><rect x="849.5" y="309" width="36.2" height="11" fill="#e9ff16"/><rect x="849.5" y="299" width="36.2" height="10" fill="#f9ff06"/><rect x="849.5" y="289" width="36.2" height="10" fill="#fff500"/><rect x="849.5" y="278" width="36.2" height="11" fill="#ffe500"/><rect x="849.5" y="268" width="36.2" height="10" fill="#ffd500"/><rect x="849.5" y="258" width="36.2" height="10" fill="#ffc400"/><rect x="849.5" y="248" width="36.2" height="10" fill="#ffb400"/><rect x="849.5" y="237" width="36.2" height="11" fill="#ffa400"/><rect x="849.5" y="227" width="36.2" height="10" fill="#ff9400"/><rect x="849.5" y="217" width="36.2" height="10" fill="#ff8400"/><rect x="849.5" y="207" width="36.2" height="10" fill="#ff7300"/><rect x="849.5" y="196" width="36.2" height="11" fill="#ff6300"/><rect x="849.5" y="186" width="36.2" height="10" fill="#ff5300"/><rect x="849.5" y="176" width="36.2" height="10" fill="#ff4300"/><rect x="849.5" y="165" width="36.2" height="11" fill="#ff3300"/><rect x="849.5" y="155" width="36.2" height="10" fill="#ff2200"/><rect x="849.5" y="145" width="36.2" height="10" fill="#ff1200"/><rect x="849.5" y="135" width="36.2" height="10" fill="#ff0200"/><rect x="849.5" y="124" width="36.2" height="11" fill="#f10000"/><rect x="849.5" y="114" width="36.2" height="10" fill="#e10000"/><rect x="849.5" y="104" width="36.2" height="10" fill="#d00000"/><rect x="849.5" y="93" width="36.2" height="11" fill="#c00000"/><rect x="849.5" y="83" width="36.2" height="11" fill="#b00000"/><rect x="849.5" y="73" width="36.2" height="10" fill="#a00000"/><rect x="849.5" y="63" width="36.2" height="10" fill="#900000"/><rect x="849.5" y="52" width="36.2" height="11" fill="#800000"/></g><g font-family="Liberation Serif" font-size="28.3" fill="#111"><text x="897.8" y="106.0" textLength="38.6" lengthAdjust="spacingAndGlyphs">190</text><text x="897.8" y="208.5" textLength="38.6" lengthAdjust="spacingAndGlyphs">170</text><text x="897.8" y="310.7" textLength="38.6" lengthAdjust="spacingAndGlyphs">150</text><text x="897.8" y="413.2" textLength="38.6" lengthAdjust="spacingAndGlyphs">130</text><text x="897.8" y="515.7" textLength="38.6" lengthAdjust="spacingAndGlyphs">110</text><text x="897.8" y="618.4" textLength="25.6" lengthAdjust="spacingAndGlyphs">90</text><text x="897.8" y="708.2" textLength="25.6" lengthAdjust="spacingAndGlyphs">70</text></g><text x="892" y="38" text-anchor="middle" font-family="Liberation Serif" font-size="32" fill="#111">Capacity/GW</text><g transform="translate(0,773.4) skewX(-11.3) translate(0,-773.4)" fill="#f99a86"><path d="M813 751.1H827V756.8H817V768.1H826.2V773.4H813Q810 773.4 810 770.4V754.1Q810 751.1 813 751.1Z"/><path d="M831.1 751.1H848.9V756.8H831.1Z M834.6 759.2H847Q849.6 759.2 849.6 761.8V770.8Q849.6 773.4 847 773.4H830.3V768.1H842.3V764.9H831.9V761.9Q831.9 759.2 834.6 759.2Z"/><path d="M852.1 751.1H870.2Q873.2 751.1 873.2 754.1V761.9Q873.2 764.9 870.2 764.9H854.6V759.2H866V756.8H852.1Z M852.8 759.2H860.9V773.4H852.8Z"/></g><text x="876.5" y="773.6" font-family="Liberation Sans" font-style="italic" font-size="25.5" fill="#72a2e2" textLength="91" lengthAdjust="spacingAndGlyphs">PLAZA</text></svg></body></html>
